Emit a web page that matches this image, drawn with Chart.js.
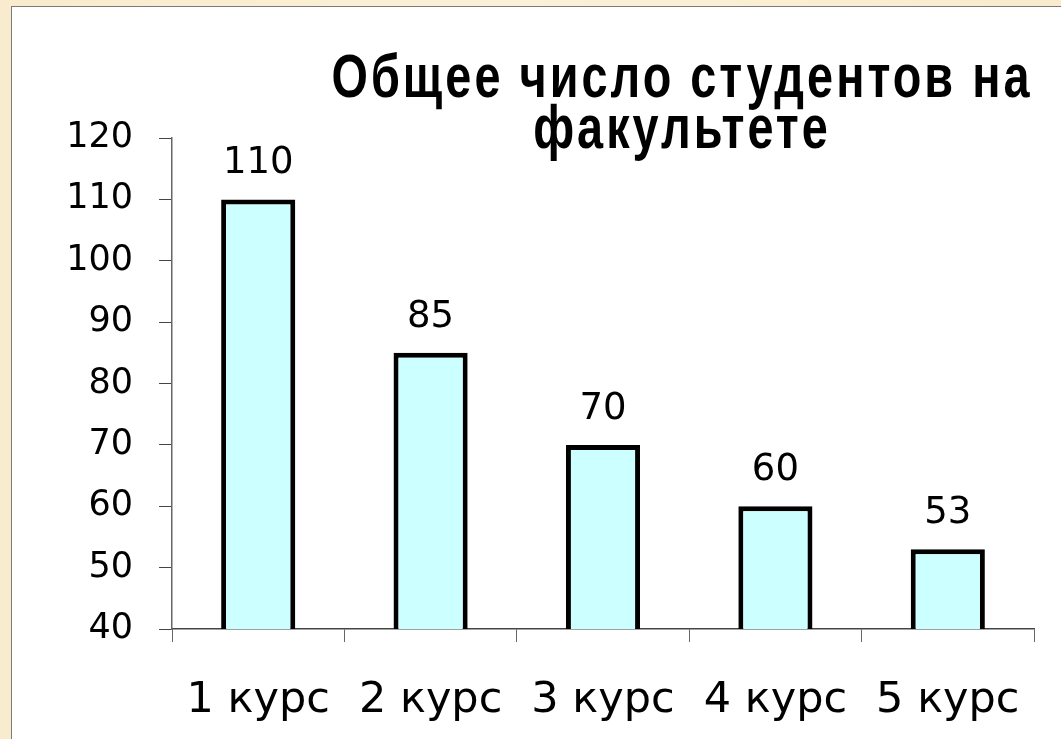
<!DOCTYPE html>
<html lang="ru">
<head>
<meta charset="utf-8">
<title>Общее число студентов на факультете</title>
<script src="https://cdn.jsdelivr.net/npm/chart.js@4.4.1/dist/chart.umd.min.js"></script>
<style>
  html, body { margin: 0; padding: 0; }
  body {
    width: 1061px; height: 739px; overflow: hidden;
    background: linear-gradient(90deg, #f9ebcd 0%, #fbf0d8 50%, #f9ebcd 100%);
  }
  #panel {
    position: absolute; left: 11px; top: 6px;
    width: 1050px; height: 733px;
    background: #fff;
    border-top: 1px solid #7a7a7a;
    border-left: 1px solid #7a7a7a;
  }
</style>
</head>
<body>
<div id="panel"><canvas id="studentsChart"></canvas></div>
<script>
const courses = ['1 курс', '2 курс', '3 курс', '4 курс', '5 курс'];
const students = [110, 85, 70, 60, 53];
const titleLines = ['Общее число студентов на', 'факультете'];

Chart.defaults.font.family = "'DejaVu Sans', sans-serif";
Chart.defaults.color = '#000';

// title sits over the top of the plot, so it is drawn by hand;
// tall narrow letters: bold Arial squeezed horizontally
const titlePlugin = {
  id: 'titleText',
  afterDraw(chart) {
    const ctx = chart.ctx;
    const cx = 670;
    const squeeze = 0.755;
    ctx.save();
    ctx.fillStyle = '#000';
    ctx.font = "bold 62px 'Liberation Sans', Arial, sans-serif";
    ctx.letterSpacing = '4px';
    ctx.textAlign = 'center';
    ctx.textBaseline = 'alphabetic';
    ctx.translate(cx, 0);
    ctx.scale(squeeze, 1);
    ctx.fillText(titleLines[0], 0, 90);
    ctx.fillText(titleLines[1], 0, 141);
    ctx.restore();
  }
};

// numbers above the bars
const valueLabels = {
  id: 'valueLabels',
  afterDatasetsDraw(chart) {
    const ctx = chart.ctx;
    const meta = chart.getDatasetMeta(0);
    ctx.save();
    ctx.fillStyle = '#000';
    ctx.font = "37px 'DejaVu Sans', sans-serif";
    ctx.textAlign = 'center';
    ctx.textBaseline = 'alphabetic';
    meta.data.forEach((bar, i) => {
      ctx.fillText(String(students[i]), bar.x, bar.y - 26);
    });
    ctx.restore();
  }
};

const ctx = document.getElementById('studentsChart').getContext('2d');

new Chart(ctx, {
  type: 'bar',
  data: {
    labels: courses,
    datasets: [{
      data: students,
      backgroundColor: '#ccffff',
      borderColor: '#000',
      borderWidth: 5,
      borderSkipped: 'bottom',
      categoryPercentage: 1,
      barPercentage: 0.43
    }]
  },
  options: {
    responsive: true,
    maintainAspectRatio: false,
    animation: false,
    layout: {
      padding: { top: 131, right: 28, left: 0, bottom: 0 }
    },
    plugins: {
      legend: { display: false },
      title: { display: false },
      tooltip: { enabled: false }
    },
    scales: {
      x: {
        afterFit(scale) { scale.height = 111; },
        grid: {
          offset: true,
          drawOnChartArea: false,
          tickLength: 13,
          color: '#666'
        },
        border: { color: '#444', width: 1.5 },
        ticks: {
          padding: 33,
          font: { size: 43 }
        }
      },
      y: {
        min: 40,
        max: 120,
        afterFit(scale) { scale.width = 160; },
        grid: {
          drawOnChartArea: false,
          tickLength: 13,
          color: '#444'
        },
        border: { color: '#666', width: 1.5 },
        ticks: {
          stepSize: 10,
          padding: 26,
          font: { size: 35 }
        }
      }
    }
  },
  plugins: [titlePlugin, valueLabels]
});
</script>
</body>
</html>
